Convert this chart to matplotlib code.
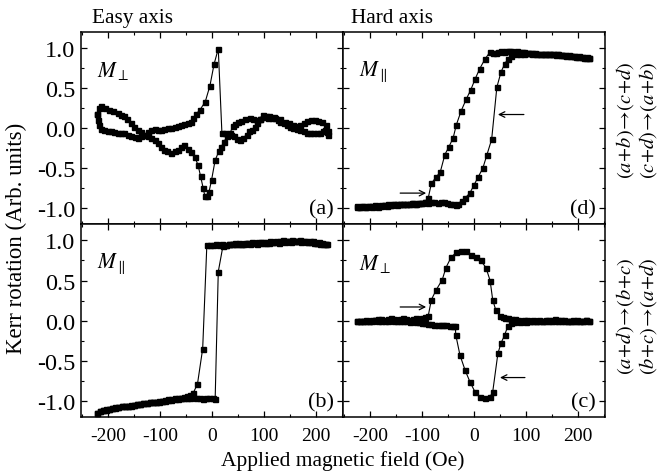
import numpy as np
import matplotlib
matplotlib.use("Agg")
from matplotlib import pyplot as plt
from matplotlib.ticker import MultipleLocator

plt.rcParams['font.family'] = ['Liberation Serif', 'DejaVu Serif']
plt.rcParams['mathtext.fontset'] = 'stix'
plt.rcParams['axes.unicode_minus'] = False

# (a) easy axis, M_perp : field swept down (right -> left) then up
a_dn_h = [223, 219, 211, 204, 198, 190, 183, 176, 170, 163, 156, 148, 140, 131, 120, 110, 100, 93, 86,
          79, 73, 63, 56, 50, 45, 40, 35, 29, 23, 18, 13, 6, -1, -6, -10, -14, -17, -22, -27, -33, -40,
          -47, -54, -60, -65, -72, -79, -86, -92, -98, -104, -110, -117, -124, -130, -136, -143, -150,
          -156, -163, -169, -175, -181, -190, -198, -205, -213, -218, -221]
a_dn_m = [-0.04, 0.04, 0.08, 0.09, 0.10, 0.10, 0.09, 0.06, 0.04, 0.03, 0.04, 0.06, 0.08, 0.12, 0.14, 0.15,
          0.14, 0.12, 0.10, 0.12, 0.13, 0.11, 0.09, 0.08, 0.05, 0.03, -0.06, -0.10, -0.17, -0.23, -0.29,
          -0.40, -0.65, -0.80, -0.85, -0.84, -0.75, -0.60, -0.46, -0.36, -0.30, -0.26, -0.21, -0.24,
          -0.27, -0.29, -0.31, -0.29, -0.27, -0.23, -0.18, -0.15, -0.12, -0.10, -0.08, -0.05, -0.02,
          0.02, 0.07, 0.11, 0.15, 0.17, 0.19, 0.21, 0.23, 0.25, 0.27, 0.25, 0.18]
a_up_h = [-221, -220, -217, -213, -208, -201, -194, -188, -181, -175, -169, -162, -156, -149, -142, -136,
          -130, -123, -117, -110, -104, -98, -92, -85, -79, -72, -66, -60, -53, -47, -40, -36, -30, -23,
          -13, -4, 4, 12, 19, 25, 31, 37, 43, 48, 54, 60, 67, 72, 77, 82, 86, 92, 98, 103, 108, 115,
          121, 126, 131, 138, 144, 150, 156, 163, 169, 176, 183, 188, 194, 201, 208, 213, 217, 221, 223]
a_up_m = [0.18, 0.10, 0.04, -0.01, -0.02, -0.03, -0.04, -0.05, -0.06, -0.06, -0.06, -0.08, -0.10, -0.11,
          -0.12, -0.10, -0.08, -0.05, -0.02, -0.01, -0.02, -0.02, -0.01, 0.00, 0.00, 0.02, 0.03, 0.045,
          0.05, 0.06, 0.08, 0.13, 0.18, 0.23, 0.33, 0.53, 0.80, 0.99, -0.06, -0.06, -0.07, -0.08, -0.10,
          -0.13, -0.15, -0.12, -0.08, -0.04, -0.02, 0.02, 0.07, 0.12, 0.17, 0.15, 0.13, 0.13, 0.13, 0.10,
          0.08, 0.06, 0.04, 0.02, 0.00, -0.01, -0.02, -0.04, -0.06, -0.06, -0.06, -0.06, -0.06, -0.04,
          -0.02, -0.05, -0.08]

# (b) easy axis, M_par
b_dn_h = [222, 217, 212, 206, 200, 194, 188, 182, 176, 170, 164, 158, 152, 146, 140, 134, 128, 122, 116,
          110, 104, 98, 92, 86, 80, 74, 68, 62, 56, 50, 44, 38, 32, 26, 20, 14, 8, 2, -4, -10, -18, -28,
          -36, -42, -48, -54, -60, -66, -72, -78, -84, -90, -96, -102, -108, -114, -120, -126, -132,
          -138, -144, -150, -156, -162, -168, -174, -180, -186, -192, -198, -204, -210, -216, -222]
b_dn_m = [0.95, 0.96, 0.97, 0.98, 0.97, 0.99, 0.99, 0.98, 0.99, 1.00, 0.99, 0.99, 0.98, 0.99, 0.98,
          0.99, 0.97, 0.98, 0.98, 0.97, 0.97, 0.98, 0.97, 0.96, 0.97, 0.96, 0.97, 0.96, 0.95, 0.96,
          0.97, 0.96, 0.95, 0.94, 0.95, 0.94, 0.95, 0.94, 0.94, 0.94, -0.35, -0.79, -0.90, -0.93,
          -0.94, -0.95, -0.96, -0.96, -0.97, -0.98, -0.98, -0.99, -1.00, -1.00, -1.01, -1.02, -1.02,
          -1.03, -1.03, -1.04, -1.04, -1.05, -1.06, -1.06, -1.07, -1.07, -1.08, -1.09, -1.09, -1.10,
          -1.11, -1.12, -1.13, -1.15]
b_up_h = [-222, -216, -210, -204, -198, -192, -186, -180, -174, -168, -162, -156, -150, -144, -138,
          -132, -126, -120, -114, -108, -102, -96, -90, -84, -78, -72, -66, -60, -54, -48, -42, -36,
          -30, -24, -18, -12, -6, 2, 6, 12, 21, 27, 33, 40, 46, 52, 58, 64, 70, 76, 82, 88, 94, 100,
          106, 112, 118, 124, 130, 136, 142, 148, 154, 160, 166, 172, 178, 184, 190, 196, 202, 208,
          214, 220]
b_up_m = [-1.15, -1.13, -1.12, -1.10, -1.10, -1.09, -1.08, -1.08, -1.07, -1.06, -1.06, -1.05, -1.05,
          -1.04, -1.04, -1.03, -1.03, -1.02, -1.02, -1.01, -1.01, -1.00, -1.00, -0.99, -0.99, -0.98,
          -0.98, -0.97, -0.97, -0.96, -0.96, -0.95, -0.96, -0.97, -0.98, -0.97, -0.96, -0.96, -0.98,
          0.61, 0.93, 0.94, 0.95, 0.96, 0.96, 0.97, 0.96, 0.97, 0.97, 0.98, 0.97, 0.98, 0.98, 0.97,
          0.98, 0.99, 0.98, 0.99, 0.99, 1.00, 0.99, 0.99, 1.00, 0.99, 0.99, 0.98, 0.99, 0.98, 0.98,
          0.97, 0.97, 0.96, 0.96, 0.95]

# (d) hard axis, M_par
d_dn_h = [222, 217, 212, 207, 202, 197, 192, 187, 182, 177, 172, 167, 162, 157, 152, 147, 142, 137, 132,
          127, 122, 117, 112, 107, 102, 97, 92, 87, 82, 77, 72, 67, 62, 57, 52, 47, 42, 37, 31, 21, 11,
          2, -6, -15, -25, -34, -40, -48, -56, -65, -73, -82, -88, -95, -101, -107, -113, -119, -125,
          -131, -137, -143, -149, -155, -161, -167, -173, -179, -185, -191, -197, -203, -209, -215,
          -221, -226]
d_dn_m = [0.88, 0.89, 0.88, 0.89, 0.90, 0.89, 0.90, 0.90, 0.91, 0.90, 0.91, 0.91, 0.92, 0.91, 0.92,
          0.92, 0.93, 0.92, 0.93, 0.93, 0.93, 0.94, 0.93, 0.94, 0.94, 0.95, 0.95, 0.95, 0.96, 0.95,
          0.96, 0.96, 0.96, 0.95, 0.96, 0.95, 0.94, 0.94, 0.95, 0.86, 0.74, 0.61, 0.48, 0.36, 0.21,
          0.04, -0.12, -0.23, -0.33, -0.55, -0.61, -0.69, -0.87, -0.92, -0.93, -0.93, -0.94, -0.93,
          -0.94, -0.95, -0.94, -0.95, -0.96, -0.95, -0.96, -0.97, -0.96, -0.97, -0.98, -0.97, -0.98,
          -0.97, -0.98, -0.97, -0.98, -0.97]
d_up_h = [-226, -220, -214, -208, -202, -196, -190, -184, -178, -172, -166, -160, -154, -148, -142,
          -136, -130, -124, -118, -112, -106, -100, -94, -88, -82, -76, -70, -64, -58, -52, -46, -40,
          -35, -31, -24, -17, -8, 0, 8, 17, 25, 34, 44, 52, 59, 65, 72, 80, 88, 96, 104, 112, 120, 128,
          136, 144, 152, 160, 168, 176, 184, 192, 200, 208, 216, 222]
d_up_m = [-0.98, -0.98, -0.97, -0.98, -0.97, -0.97, -0.96, -0.97, -0.96, -0.96, -0.95, -0.96, -0.95,
          -0.95, -0.94, -0.95, -0.94, -0.94, -0.93, -0.94, -0.93, -0.93, -0.92, -0.93, -0.92, -0.92,
          -0.93, -0.92, -0.92, -0.93, -0.94, -0.95, -0.96, -0.94, -0.91, -0.87, -0.81, -0.71, -0.61,
          -0.50, -0.33, -0.14, 0.51, 0.70, 0.80, 0.86, 0.90, 0.92, 0.93, 0.93, 0.94, 0.94, 0.93, 0.93,
          0.92, 0.93, 0.92, 0.92, 0.91, 0.91, 0.90, 0.90, 0.89, 0.89, 0.88, 0.88]

# (c) hard axis, M_perp
c_dn_h = [222, 216, 210, 204, 198, 192, 186, 180, 174, 168, 162, 156, 150, 144, 138, 132, 126, 120, 114,
          108, 102, 96, 90, 84, 78, 72, 66, 60, 55, 50, 42, 36, 31, 23, 13, 4, -6, -15, -25, -34, -44,
          -54, -61, -73, -82, -88, -94, -100, -106, -112, -118, -124, -130, -136, -142, -148, -154,
          -160, -166, -172, -178, -184, -190, -196, -202, -208, -214, -220, -226]
c_dn_m = [0.00, 0.01, -0.01, 0.00, 0.01, 0.00, -0.01, 0.00, 0.01, 0.00, 0.01, 0.02, 0.01, 0.00, 0.01,
          0.00, 0.01, 0.00, 0.01, 0.00, 0.01, 0.01, 0.00, 0.01, 0.02, 0.02, 0.03, 0.03, 0.04, 0.06,
          0.13, 0.26, 0.50, 0.66, 0.75, 0.79, 0.82, 0.87, 0.87, 0.85, 0.79, 0.66, 0.51, 0.38, 0.26,
          0.06, 0.04, 0.03, 0.02, 0.03, 0.02, 0.01, 0.02, 0.03, 0.02, 0.01, 0.02, 0.03, 0.02, 0.01,
          0.02, 0.02, 0.01, 0.01, 0.00, 0.01, 0.00, 0.00, 0.00]
c_up_h = [-226, -220, -214, -208, -202, -196, -190, -184, -178, -172, -166, -160, -154, -148, -142,
          -136, -130, -124, -118, -112, -106, -100, -94, -88, -82, -76, -70, -64, -59, -53, -47, -41,
          -36, -35, -27, -17, -8, 2, 11, 21, 31, 36, 46, 52, 59, 65, 71, 77, 83, 89, 95, 101, 107, 113,
          119, 125, 131, 137, 143, 149, 155, 161, 167, 173, 179, 185, 191, 197, 203, 209, 215, 222]
c_up_m = [0.00, 0.00, -0.01, 0.00, -0.01, 0.00, 0.01, 0.00, 0.00, -0.01, 0.00, 0.01, 0.00, -0.01,
          -0.01, 0.00, -0.01, -0.02, -0.01, -0.02, -0.02, -0.03, -0.03, -0.04, -0.04, -0.05, -0.05,
          -0.06, -0.06, -0.06, -0.07, -0.07, -0.07, -0.18, -0.43, -0.62, -0.76, -0.89, -0.95, -0.97,
          -0.95, -0.89, -0.41, -0.28, -0.18, -0.07, -0.03, -0.02, -0.01, -0.02, -0.01, -0.02, -0.01,
          0.00, -0.01, 0.00, -0.01, 0.00, 0.01, 0.00, -0.01, 0.00, 0.01, 0.00, -0.01, 0.00, 0.01, 0.00,
          -0.01, 0.00, 0.01, 0.00]

fig = plt.figure(figsize=(6.59, 4.77), dpi=100)
gs = fig.add_gridspec(2, 2, left=0.123, right=0.918, top=0.931, bottom=0.124, wspace=0, hspace=0)
axs = [[fig.add_subplot(gs[i, j]) for j in range(2)] for i in range(2)]

panels = [
    (axs[0][0], [(a_dn_h, a_dn_m), (a_up_h, a_up_m)], '(a)', r'$M_{\perp}$'),
    (axs[0][1], [(d_dn_h, d_dn_m), (d_up_h, d_up_m)], '(d)', r'$M_{\parallel}$'),
    (axs[1][0], [(b_dn_h, b_dn_m), (b_up_h, b_up_m)], '(b)', r'$M_{\parallel}$'),
    (axs[1][1], [(c_dn_h, c_dn_m), (c_up_h, c_up_m)], '(c)', r'$M_{\perp}$'),
]

for ax, branches, tag, mlab in panels:
    for h, m in branches:
        ax.plot(h, m, '-s', color='k', lw=0.8, ms=3.6, mec='k', mfc='k')
    ax.set_xlim(-252, 252)
    ax.set_ylim(-1.2, 1.2)
    ax.xaxis.set_major_locator(MultipleLocator(100))
    ax.xaxis.set_minor_locator(MultipleLocator(50))
    ax.yaxis.set_major_locator(MultipleLocator(0.5))
    ax.yaxis.set_minor_locator(MultipleLocator(0.25))
    ax.yaxis.set_major_formatter(matplotlib.ticker.FormatStrFormatter('%.1f'))
    ax.tick_params(which='both', direction='in', top=True, right=True)
    ax.tick_params(axis='x', labelsize=14, pad=7)
    ax.tick_params(axis='y', labelsize=17.5, pad=4)
    ax.tick_params(which='major', length=4, width=0.9)
    ax.tick_params(which='minor', length=2, width=0.8)
    for s in ax.spines.values():
        s.set_linewidth(1.1)
    ax.text(0.965, 0.03, tag, transform=ax.transAxes, ha='right', va='bottom', fontsize=16)
    ax.text(0.06, 0.80, mlab, transform=ax.transAxes, ha='left', va='center', fontsize=15.5)

for ax in axs[0]:
    ax.tick_params(labelbottom=False)
for row in axs:
    row[1].tick_params(labelleft=False)

axs[0][0].text(0.04, 1.025, 'Easy axis', transform=axs[0][0].transAxes, ha='left', va='bottom', fontsize=15.3)
axs[0][1].text(0.03, 1.025, 'Hard axis', transform=axs[0][1].transAxes, ha='left', va='bottom', fontsize=15.3)

fig.text(0.52, 0.012, 'Applied magnetic field (Oe)', ha='center', va='bottom', fontsize=15.5)
fig.text(0.025, 0.50, 'Kerr rotation (Arb. units)', ha='center', va='center', rotation=90, fontsize=16.5)

# arrows marking the jumps
arr = dict(arrowstyle='->', lw=0.9, color='k', shrinkA=0, shrinkB=0)
axs[0][1].annotate('', xy=(-92, -0.81), xytext=(-142, -0.81), arrowprops=arr)
axs[0][1].annotate('', xy=(46, 0.17), xytext=(96, 0.17), arrowprops=arr)
axs[1][1].annotate('', xy=(-92, 0.17), xytext=(-142, 0.17), arrowprops=arr)
axs[1][1].annotate('', xy=(50, -0.71), xytext=(98, -0.71), arrowprops=arr)

# sweep labels at the right side
fs_r = 14.7
fig.text(0.948, 0.748, r'$(a\!+\!b)\!\rightarrow\!(c\!+\!d)$', rotation=90, ha='center', va='center', fontsize=fs_r)
fig.text(0.983, 0.748, r'$(c\!+\!d)\!\rightarrow\!(a\!+\!b)$', rotation=90, ha='center', va='center', fontsize=fs_r)
fig.text(0.948, 0.338, r'$(a\!+\!d)\!\rightarrow\!(b\!+\!c)$', rotation=90, ha='center', va='center', fontsize=fs_r)
fig.text(0.983, 0.338, r'$(b\!+\!c)\!\rightarrow\!(a\!+\!d)$', rotation=90, ha='center', va='center', fontsize=fs_r)

fig.savefig('out.png', dpi=100)
